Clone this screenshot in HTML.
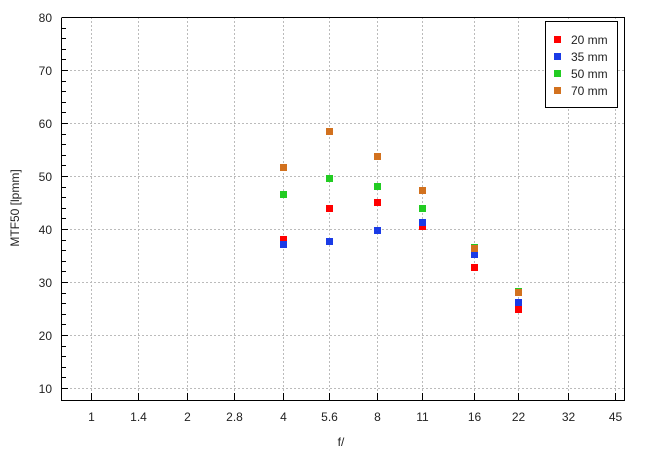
<!DOCTYPE html>
<html><head><style>body{margin:0;background:#fff}</style></head><body>
<svg width="650" height="455" xmlns="http://www.w3.org/2000/svg" font-family="Liberation Sans, sans-serif" font-size="12" fill="#222">
<rect width="650" height="455" fill="#fff"/>
<g stroke="#bbb" stroke-dasharray="2,2" stroke-width="1">
<line x1="62" x2="624" y1="17.5" y2="17.5"/><line x1="62" x2="624" y1="70.5" y2="70.5"/><line x1="62" x2="624" y1="123.5" y2="123.5"/><line x1="62" x2="624" y1="176.5" y2="176.5"/><line x1="62" x2="624" y1="229.5" y2="229.5"/><line x1="62" x2="624" y1="282.5" y2="282.5"/><line x1="62" x2="624" y1="335.5" y2="335.5"/><line x1="62" x2="624" y1="388.5" y2="388.5"/>
<line y1="17" y2="400" x1="91.5" x2="91.5"/><line y1="17" y2="400" x1="138.5" x2="138.5"/><line y1="17" y2="400" x1="187.5" x2="187.5"/><line y1="17" y2="400" x1="234.5" x2="234.5"/><line y1="17" y2="400" x1="283.5" x2="283.5"/><line y1="17" y2="400" x1="329.5" x2="329.5"/><line y1="17" y2="400" x1="377.5" x2="377.5"/><line y1="17" y2="400" x1="422.5" x2="422.5"/><line y1="17" y2="400" x1="474.5" x2="474.5"/><line y1="17" y2="400" x1="518.5" x2="518.5"/><line y1="17" y2="400" x1="568.5" x2="568.5"/><line y1="17" y2="400" x1="615.5" x2="615.5"/>
</g>
<g stroke="#000" stroke-width="1" fill="none">
<path d="M62,17.5H624.5V400.5H61.5V17.5"/>
<path d="M62,17.5h6M62,70.5h6M62,123.5h6M62,176.5h6M62,229.5h6M62,282.5h6M62,335.5h6M62,388.5h6"/>
<path d="M62,28.5h4M62,38.5h4M62,49.5h4M62,59.5h4M62,81.5h4M62,91.5h4M62,102.5h4M62,112.5h4M62,134.5h4M62,144.5h4M62,155.5h4M62,165.5h4M62,187.5h4M62,197.5h4M62,208.5h4M62,218.5h4M62,240.5h4M62,250.5h4M62,261.5h4M62,271.5h4M62,293.5h4M62,303.5h4M62,314.5h4M62,324.5h4M62,346.5h4M62,356.5h4M62,367.5h4M62,377.5h4"/>
<path d="M91.5,400v-7M138.5,400v-7M187.5,400v-7M234.5,400v-7M283.5,400v-7M329.5,400v-7M377.5,400v-7M422.5,400v-7M474.5,400v-7M518.5,400v-7M568.5,400v-7M615.5,400v-7"/>
</g>
<g text-anchor="end">
<text x="52" y="22">80</text><text x="52" y="75">70</text><text x="52" y="128">60</text><text x="52" y="181">50</text><text x="52" y="234">40</text><text x="52" y="287">30</text><text x="52" y="340">20</text><text x="52" y="393">10</text>
</g>
<g text-anchor="middle">
<text x="91.5" y="421">1</text><text x="138.5" y="421">1.4</text><text x="187.5" y="421">2</text><text x="234.5" y="421">2.8</text><text x="283.5" y="421">4</text><text x="329.5" y="421">5.6</text><text x="377.5" y="421">8</text><text x="422.5" y="421">11</text><text x="474.5" y="421">16</text><text x="518.5" y="421">22</text><text x="568.5" y="421">32</text><text x="615.5" y="421">45</text>
<text x="341" y="446">f/</text>
<text transform="translate(19,208) rotate(-90)">MTF50 [lpmm]</text>
</g>
<g fill="#ff0000">
<rect x="280" y="236" width="7" height="7"/><rect x="326" y="205" width="7" height="7"/><rect x="374" y="199" width="7" height="7"/><rect x="419" y="223" width="7" height="7"/><rect x="471" y="264" width="7" height="7"/><rect x="515" y="306" width="7" height="7"/>
</g>
<g fill="#1a3be6">
<rect x="280" y="241" width="7" height="7"/><rect x="326" y="238" width="7" height="7"/><rect x="374" y="227" width="7" height="7"/><rect x="419" y="219" width="7" height="7"/><rect x="471" y="251" width="7" height="7"/><rect x="515" y="299" width="7" height="7"/>
</g>
<g fill="#22cc22">
<rect x="280" y="191" width="7" height="7"/><rect x="326" y="175" width="7" height="7"/><rect x="374" y="183" width="7" height="7"/><rect x="419" y="205" width="7" height="7"/><rect x="471" y="244" width="7" height="7"/><rect x="515" y="288" width="7" height="7"/>
</g>
<g fill="#d2711e">
<rect x="280" y="164" width="7" height="7"/><rect x="326" y="128" width="7" height="7"/><rect x="374" y="153" width="7" height="7"/><rect x="419" y="187" width="7" height="7"/><rect x="471" y="245" width="7" height="7"/><rect x="515" y="289" width="7" height="7"/>
</g>
<rect x="545.5" y="21.5" width="72" height="86" fill="#fff" stroke="#000"/>
<rect x="554" y="36" width="7" height="7" fill="#ff0000"/><rect x="554" y="53" width="7" height="7" fill="#1a3be6"/><rect x="554" y="70" width="7" height="7" fill="#22cc22"/><rect x="554" y="87" width="7" height="7" fill="#d2711e"/>
<text x="571" y="44">20 mm</text><text x="571" y="61">35 mm</text><text x="571" y="78">50 mm</text><text x="571" y="95">70 mm</text>
</svg>
</body></html>
